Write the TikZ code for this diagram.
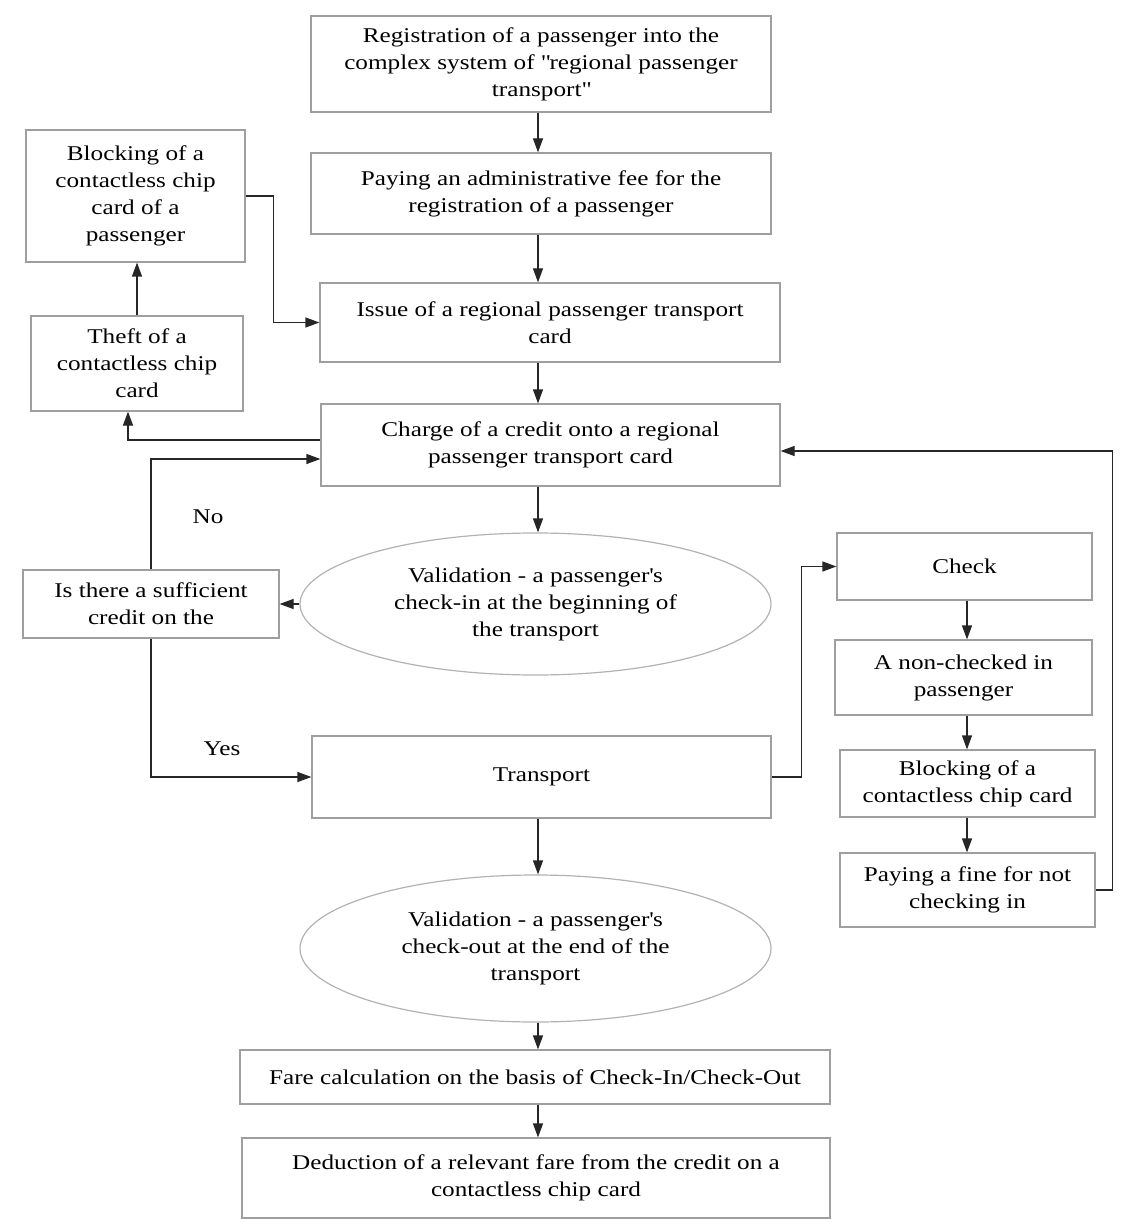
\documentclass[tikz,border=0pt]{standalone}
\usepackage{fontspec}
\setmainfont[FakeStretch=1.2]{Liberation Serif}
\usetikzlibrary{shapes.geometric, arrows.meta, positioning}

\begin{document}
\begin{tikzpicture}[x=1pt, y=-1pt,
    font=\fontsize{21}{27}\selectfont,
    box/.style={rectangle, draw=gray!75, line width=1.2pt, align=center, inner sep=0pt},
    oval/.style={ellipse, draw=gray!60, line width=1.2pt, align=center, inner sep=0pt},
    link/.style={draw=black!85, line width=1.2pt, -{Triangle[length=14pt,width=10pt]}}]

    \useasboundingbox (0,0) rectangle (1145,1230);

    % main column
    \node[box, minimum width=460pt, minimum height=96pt] (reg) at (541,64)
        {Registration of a passenger into the\\complex system of \textquotedbl regional passenger\\transport\textquotedbl};
    \node[box, minimum width=460pt, minimum height=81pt] (fee) at (541,193.5)
        {Paying an administrative fee for the\\registration of a passenger};
    \node[box, minimum width=460pt, minimum height=79pt] (issue) at (550,322.5)
        {Issue of a regional passenger transport\\card};
    \node[box, minimum width=459pt, minimum height=82pt] (charge) at (550.5,445)
        {Charge of a credit onto a regional\\passenger transport card};
    \node[oval, minimum width=471pt, minimum height=142pt] (checkin) at (535.5,604)
        {Validation - a passenger\textquotesingle s\\check-in at the beginning of\\the transport};
    \node[box, minimum width=459pt, minimum height=82pt] (transport) at (541.5,777)
        {Transport};
    \node[oval, minimum width=471pt, minimum height=147pt] (checkout) at (535.5,948.5)
        {Validation - a passenger\textquotesingle s\\check-out at the end of the\\transport};
    \node[box, minimum width=590pt, minimum height=54pt] (fare) at (535,1077)
        {Fare calculation on the basis of Check-In/Check-Out};
    \node[box, minimum width=588pt, minimum height=80pt] (deduct) at (536,1178)
        {Deduction of a relevant fare from the credit on a\\contactless chip card};

    % left side
    \node[box, minimum width=219pt, minimum height=132pt] (blockcard) at (135.5,196)
        {Blocking of a\\contactless chip\\card of a\\passenger};
    \node[box, minimum width=212pt, minimum height=95pt] (theft) at (137,363.5)
        {Theft of a\\contactless chip\\card};
    \node[box, minimum width=256pt, minimum height=68pt] (credit) at (151,604)
        {Is there a sufficient\\credit on the};
    \node (lblno) at (208,517) {No};
    \node (lblyes) at (222,749) {Yes};

    % right side
    \node[box, minimum width=255pt, minimum height=67pt] (check) at (964.5,566.5)
        {Check};
    \node[box, minimum width=257pt, minimum height=75pt] (nonchecked) at (963.5,677.5)
        {A non-checked in\\passenger};
    \node[box, minimum width=255pt, minimum height=67pt] (blockchip) at (967.5,783.5)
        {Blocking of a\\contactless chip card};
    \node[box, minimum width=255pt, minimum height=74pt] (fine) at (967.5,890)
        {Paying a fine for not\\checking in};

    \coordinate (spine) at (538,0);
    \coordinate (side) at (967,0);

    % connectors
    \draw[link] (reg.south -| spine) -- (fee.north -| spine);
    \draw[link] (fee.south -| spine) -- (issue.north -| spine);
    \draw[link] (issue.south -| spine) -- (charge.north -| spine);
    \draw[link] (charge.south -| spine) -- (checkin.north -| spine);
    \draw[link] (transport.south -| spine) -- (checkout.north -| spine);
    \draw[link] (checkout.south -| spine) -- (fare.north -| spine);
    \draw[link] (fare.south -| spine) -- (deduct.north -| spine);

    \draw[link] (blockcard.east) -- ++(28,0) |- (issue.west);
    \draw[link] (theft.north) -- (theft.north |- blockcard.south);
    \draw[link] ([yshift=5pt]charge.west) -| ([xshift=-9pt]theft.south);
    \draw[link] (checkin.west) -- (credit.east);
    \draw[link] (credit.north) |- ([yshift=-14pt]charge.west);
    \draw[link] (credit.south) |- (transport.west);

    \draw[link] (transport.east) -- ++(30,0) |- (check.west);
    \draw[link] (check.south -| side) -- (nonchecked.north -| side);
    \draw[link] (nonchecked.south -| side) -- (blockchip.north -| side);
    \draw[link] (blockchip.south -| side) -- (fine.north -| side);
    \draw[link] (fine.east) -- ++(17,0) |- ([yshift=-6pt]charge.east);

\end{tikzpicture}
\end{document}
